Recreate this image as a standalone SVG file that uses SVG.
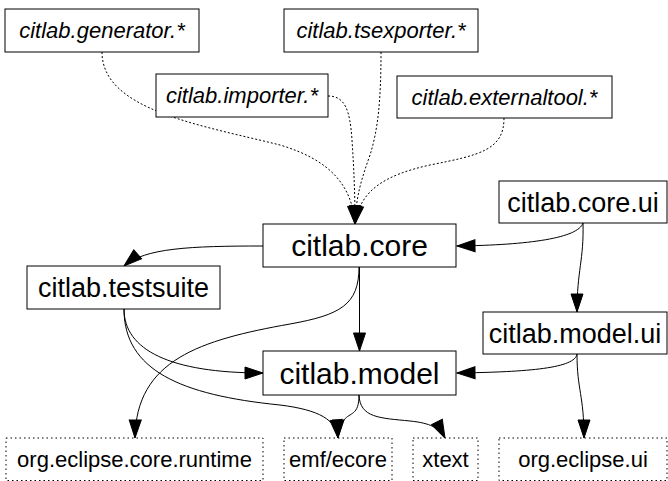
<svg xmlns="http://www.w3.org/2000/svg" width="668" height="481" viewBox="0 0 668 481">
<defs>
<marker id="arr" markerUnits="userSpaceOnUse" markerWidth="20" markerHeight="14" refX="18" refY="6" orient="auto" overflow="visible">
<path d="M0,0 L18,6 L0,12 z" fill="#000" stroke="#000" stroke-width="1"/>
</marker>
</defs>
<style>
rect{fill:#fff;stroke:#000;stroke-width:1}
rect.ext{stroke-dasharray:1.5,3}
text{font-family:"Liberation Sans",Arial,sans-serif;text-anchor:middle;fill:#000}
.it{font-style:italic;font-size:22px}
.big{font-size:30px}
.mid{font-size:27px}
.sm{font-size:22px}
#edges path{fill:none;stroke:#000;stroke-width:1;marker-end:url(#arr)}
#edges path.dot{stroke-dasharray:2,2}
</style>
<rect x="0" y="0" width="668" height="481" style="fill:#fff;stroke:none"/>
<g id="edges">
<path class="dot" d="M102,52 C102,110 200,125 280,145 C330,160 352,185 355,224"/>
<path class="dot" d="M328,96 C345,96 350,110 352,140 C354,170 355,195 355,224"/>
<path class="dot" d="M381,52 C381,100 378,130 370,155 C362,178 356,195 355,224"/>
<path class="dot" d="M504,118 C504,150 480,155 430,165 C385,175 360,190 355,224"/>
<path d="M263,246 C190,246 145,248 124,266"/>
<path d="M359.5,267 L359.5,351"/>
<path d="M359,267 C359,305 340,315 290,324 C200,340 136,360 135,438"/>
<path d="M124,309 C124,350 170,373 263,373"/>
<path d="M124,309 C124,370 180,395 280,405 C320,410 336,420 338,438"/>
<path d="M359,395 C359,416 350,412 344,420 C340,425 338,430 338,438"/>
<path d="M359,395 C360,418 380,418 410,421 C430,423 440,428 445,438"/>
<path d="M583,223 C578,238 530,245 457,246"/>
<path d="M583,223 C584,260 577,270 577,312"/>
<path d="M577,354 C575,368 530,372 457,373"/>
<path d="M577,354 C577,390 584,395 584,438"/>
</g>
<g id="generator"><rect x="5" y="9" width="194" height="43"/><text class="it" x="102" y="38">citlab.generator.*</text></g>
<g id="tsexporter"><rect x="284" y="9" width="194" height="43"/><text class="it" x="381" y="38">citlab.tsexporter.*</text></g>
<g id="importer"><rect x="156" y="74" width="172" height="43"/><text class="it" x="242" y="103">citlab.importer.*</text></g>
<g id="externaltool"><rect x="397" y="76" width="215" height="42"/><text class="it" x="504.5" y="104.5">citlab.externaltool.*</text></g>
<g id="core"><rect x="263" y="224" width="193" height="43"/><text class="big" x="359.5" y="255.5">citlab.core</text></g>
<g id="coreui"><rect x="499" y="181" width="168" height="42"/><text class="mid" x="583" y="211.5">citlab.core.ui</text></g>
<g id="testsuite"><rect x="27" y="266" width="193" height="43"/><text class="mid" x="123.5" y="297">citlab.testsuite</text></g>
<g id="modelui"><rect x="483" y="312" width="184" height="42"/><text class="mid" x="575" y="342.5">citlab.model.ui</text></g>
<g id="model"><rect x="263" y="351" width="193" height="44"/><text class="big" x="359.5" y="383.5">citlab.model</text></g>
<g id="runtime"><rect class="ext" x="6" y="438" width="257" height="42.5"/><text class="sm" x="134.5" y="467">org.eclipse.core.runtime</text></g>
<g id="ecore"><rect class="ext" x="284" y="438" width="108" height="42.5"/><text class="sm" x="338" y="467">emf/ecore</text></g>
<g id="xtext"><rect class="ext" x="413" y="438" width="65" height="42.5"/><text class="sm" x="445.5" y="467">xtext</text></g>
<g id="eclipseui"><rect class="ext" x="499" y="438" width="168" height="42.5"/><text class="sm" x="583" y="467">org.eclipse.ui</text></g>
</svg>
